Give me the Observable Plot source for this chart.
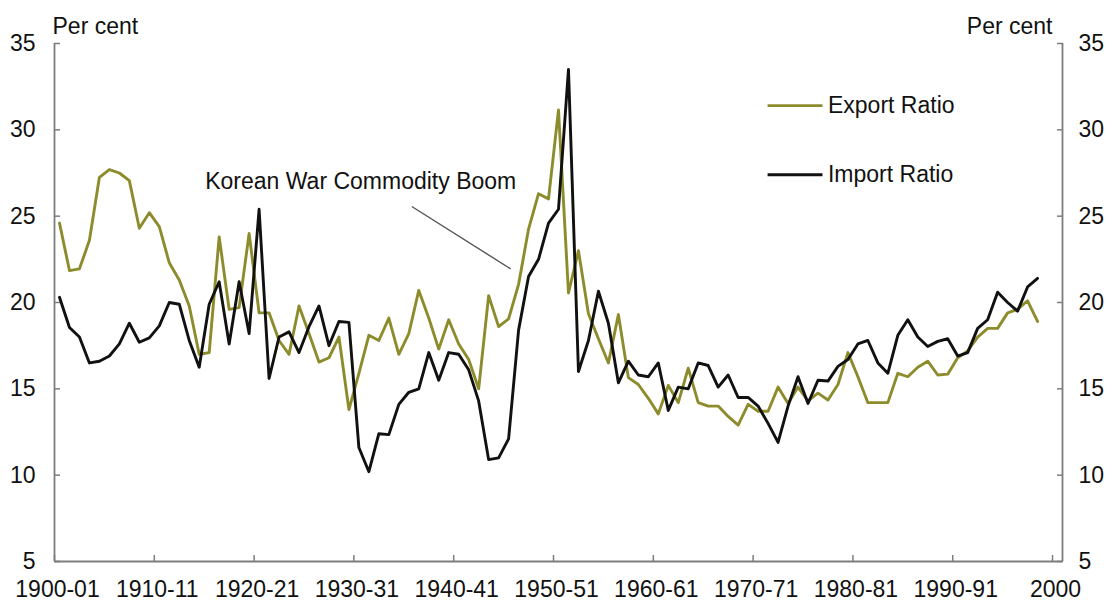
<!DOCTYPE html>
<html>
<head>
<meta charset="utf-8">
<script src="https://cdn.jsdelivr.net/npm/d3@7"></script>
<script src="https://cdn.jsdelivr.net/npm/@observablehq/plot@0.6"></script>
<style>
  html, body { margin: 0; padding: 0; background: #fff; }
  #chart { width: 1112px; height: 610px; }
</style>
</head>
<body>
<div id="chart"></div>
<script>
// ---- Data (per cent of GDP), financial years 1900-01 .. 1998-99 ----
const startYear = 1900;
const exportRatio = [
  24.6, 21.85, 21.95, 23.6, 27.25, 27.7, 27.5, 27.06, 24.3, 25.2,
  24.4, 22.3, 21.3, 19.8, 17.0, 17.1, 23.8, 19.6, 19.7, 24.0,
  19.4, 19.4, 17.8, 17.0, 19.8, 18.2, 16.55, 16.8, 18.0, 13.8,
  15.9, 18.1, 17.8, 19.1, 17.0, 18.2, 20.7, 19.1, 17.3, 19.0,
  17.6, 16.7, 15.0, 20.4, 18.6, 19.05, 21.05, 24.25, 26.3, 26.0,
  31.15, 20.55, 23.0, 19.35, 17.9, 16.5, 19.3, 15.65, 15.25, 14.45,
  13.55, 15.2, 14.2, 16.2, 14.2, 14.0, 14.0, 13.4, 12.9, 14.1,
  13.7, 13.7, 15.1, 14.15, 15.1, 14.3, 14.75, 14.35, 15.25, 17.1,
  15.7, 14.2, 14.2, 14.2, 15.9, 15.7, 16.25, 16.6, 15.8, 15.85,
  16.8, 17.2, 18.0, 18.5, 18.5, 19.4, 19.6, 20.1, 18.9
];
const importRatio = [
  20.3, 18.55, 18.0, 16.5, 16.6, 16.9, 17.6, 18.8, 17.7, 17.95,
  18.65, 20.0, 19.9, 17.8, 16.25, 19.9, 21.2, 17.6, 21.2, 18.2,
  25.4, 15.6, 18.0, 18.3, 17.1, 18.6, 19.8, 17.5, 18.9, 18.85,
  11.6, 10.2, 12.4, 12.35, 14.1, 14.8, 15.0, 17.1, 15.5, 17.1,
  17.0, 16.1, 14.3, 10.9, 11.0, 12.1, 18.4, 21.5, 22.5, 24.6,
  25.4, 33.5, 16.0, 17.8, 20.65, 18.8, 15.35, 16.6, 15.8, 15.7,
  16.5, 13.75, 15.1, 15.0, 16.5, 16.35, 15.1, 15.8, 14.5, 14.5,
  14.0, 13.0, 11.9, 14.0, 15.7, 14.15, 15.5, 15.45, 16.3, 16.7,
  17.6, 17.8, 16.5, 15.9, 18.1, 19.0, 18.0, 17.45, 17.75, 17.9,
  16.9, 17.1, 18.5, 19.0, 20.6, 20.0, 19.5, 20.9, 21.4
];
const seriesNames = ["Export Ratio", "Import Ratio"];
const seriesColors = ["#8d8c2c", "#111111"];
const xDomain = [1900, 2001];
const xTicks = [1900, 1910, 1920, 1930, 1940, 1950, 1960, 1970, 1980, 1990, 2000];
const xTickLabels = ["1900-01", "1910-11", "1920-21", "1930-31", "1940-41", "1950-51",
                     "1960-61", "1970-71", "1980-81", "1990-91", "2000"];
const yTicks = [5, 10, 15, 20, 25, 30, 35];
const unitLabel = "Per cent";
// legend and annotation anchors (data units)
const legendX = [1971.5, 1977.0];
const legendY = [31.4, 27.4];
const annotationText = "Korean War Commodity Boom";
const annotationPos = [1915.1, 27.0];
const leaderLine = [1935.8, 25.56, 1945.7, 21.95];

// ---- Build table ----
const years = exportRatio.map((_, i) => startYear + i);
const data = [];
seriesNames.forEach((s, k) => {
  const vals = k === 0 ? exportRatio : importRatio;
  years.forEach((yr, i) => data.push({series: s, x: yr + 0.5, value: vals[i]}));
});
const legendRows = seriesNames.map((s, k) => ({series: s, y: legendY[k]}));

const axisColor = "#7d7d7d";
const fontFamily = "'Liberation Sans', Arial, Helvetica, sans-serif";
const blank = () => "";

const chart = Plot.plot({
  width: 1112,
  height: 610,
  marginLeft: 54,
  marginRight: 50,
  marginTop: 43,
  marginBottom: 49,
  style: {fontFamily, fontSize: "23px", color: "#111", background: "#fff"},
  x: {domain: xDomain, axis: null},
  y: {domain: [yTicks[0], yTicks[yTicks.length - 1]], axis: null},
  color: {domain: seriesNames, range: seriesColors},
  marks: [
    // frame lines (left, right, bottom)
    Plot.ruleX(xDomain, {stroke: axisColor, strokeWidth: 1.8}),
    Plot.ruleY([yTicks[0]], {stroke: axisColor, strokeWidth: 1.8}),
    // inward ticks
    Plot.axisY(yTicks, {anchor: "left", tickSize: 6, dx: 6, tickFormat: blank, label: null, stroke: axisColor, strokeWidth: 1.5}),
    Plot.axisY(yTicks, {anchor: "right", tickSize: 6, dx: -6, tickFormat: blank, label: null, stroke: axisColor, strokeWidth: 1.5}),
    Plot.axisX(xTicks, {anchor: "bottom", tickSize: 6, dy: -6, tickFormat: blank, label: null, stroke: axisColor, strokeWidth: 1.5}),
    // tick labels
    Plot.axisY(yTicks, {anchor: "left", tickSize: 0, tickPadding: 19, fill: "#111", label: null}),
    Plot.axisY(yTicks, {anchor: "right", tickSize: 0, tickPadding: 16, fill: "#111", label: null}),
    Plot.axisX(xTicks, {anchor: "bottom", tickSize: 0, tickPadding: 19, dx: 3, fill: "#111", label: null,
      tickFormat: d => xTickLabels[xTicks.indexOf(d)]}),
    // unit labels
    Plot.text([unitLabel], {frameAnchor: "top-left", textAnchor: "start", lineAnchor: "bottom",
      dx: -2, dy: -10, fontSize: 23, fill: "#111"}),
    Plot.text([unitLabel], {frameAnchor: "top-right", textAnchor: "end", lineAnchor: "bottom",
      dx: -10, dy: -10, fontSize: 23, fill: "#111"}),
    // series
    Plot.line(data, {x: "x", y: "value", stroke: "series", z: "series", strokeWidth: 2.9,
      strokeLinejoin: "round"}),
    // annotation
    Plot.link([leaderLine], {x1: d => d[0], y1: d => d[1], x2: d => d[2], y2: d => d[3],
      stroke: "#555", strokeWidth: 1.4}),
    Plot.text([annotationText], {x: annotationPos[0], y: annotationPos[1], textAnchor: "start",
      lineAnchor: "middle", fontSize: 23, fill: "#111"}),
    // legend
    Plot.ruleY(legendRows, {y: "y", x1: legendX[0], x2: legendX[1], stroke: "series", strokeWidth: 2.9}),
    Plot.text(legendRows, {y: "y", x: legendX[1], text: "series", textAnchor: "start", dx: 5,
      lineAnchor: "middle", fontSize: 23, fill: "#111"})
  ]
});
document.getElementById("chart").appendChild(chart);
</script>
</body>
</html>
